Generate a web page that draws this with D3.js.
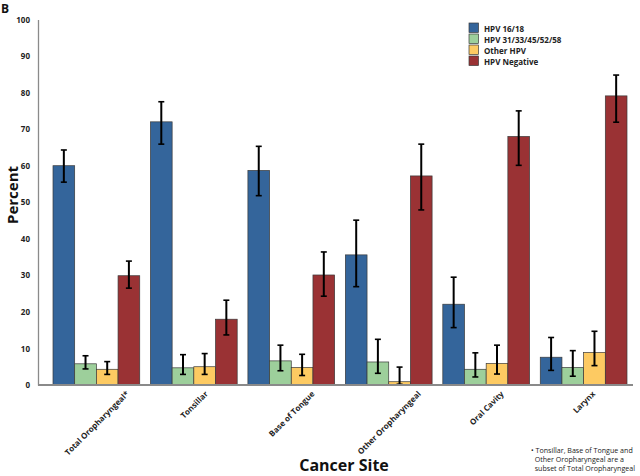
<!DOCTYPE html>
<html>
<head>
<meta charset="utf-8">
<script src="https://cdn.jsdelivr.net/npm/d3@7"></script>
<style>
  body { margin: 0; background: #fff; }
  svg { display: block; }
</style>
</head>
<body>
<svg id="chart" width="640" height="476"></svg>
<script>

var sites = ["Total Oropharyngeal*", "Tonsillar", "Base of Tongue", "Other Oropharyngeal", "Oral Cavity", "Larynx"];
var seriesNames = ["HPV 16/18", "HPV 31/33/45/52/58", "Other HPV", "HPV Negative"];
var seriesColors = ["#34659b", "#9dcf9b", "#fdca62", "#9a3234"];

// percent per site, one array per series
var hpv1618 = [60.0, 72.0, 58.7, 35.6, 22.1, 7.6];
var hpvOtherHR = [5.8, 4.7, 6.6, 6.3, 4.3, 4.8];
var otherHpv = [4.3, 5.0, 4.8, 0.9, 5.9, 8.9];
var hpvNeg = [29.9, 18.0, 30.1, 57.2, 68.0, 79.1];

// error bar limits
var hpv1618Lo = [55.5, 65.9, 51.8, 26.9, 15.7, 4.0];
var hpv1618Hi = [64.3, 77.5, 65.3, 45.1, 29.5, 13.0];
var hpvOtherHRLo = [4.4, 2.9, 3.9, 3.2, 2.2, 2.4];
var hpvOtherHRHi = [8.0, 8.3, 10.9, 12.5, 8.8, 9.4];
var otherHpvLo = [2.9, 2.9, 2.6, 0.2, 3.0, 5.3];
var otherHpvHi = [6.4, 8.6, 8.4, 4.9, 10.9, 14.7];
var hpvNegLo = [26.5, 13.7, 24.3, 47.9, 60.1, 71.9];
var hpvNegHi = [33.9, 23.2, 36.4, 65.9, 75.0, 84.8];

var yTicks = [0, 10, 20, 30, 40, 50, 60, 70, 80, 90, 100];
var footnote = ["\u2022 Tonsillar, Base of Tongue and", "  Other Oropharyngeal are a", "  subset of Total Oropharyngeal"];

var values = [hpv1618, hpvOtherHR, otherHpv, hpvNeg];
var lows = [hpv1618Lo, hpvOtherHRLo, otherHpvLo, hpvNegLo];
var highs = [hpv1618Hi, hpvOtherHRHi, otherHpvHi, hpvNegHi];

var svg = d3.select("#chart");
var font = "'Open Sans', Arial, sans-serif";

var y = d3.scaleLinear().domain([0, 100]).range([385, 19.5]);
var x0 = d3.scaleBand().domain(sites).range([53, 627]).paddingInner(0.11).paddingOuter(0);
var x1 = d3.scaleBand().domain(d3.range(seriesNames.length)).range([0, x0.bandwidth()]);

// y axis
var yAxis = svg.append("g")
  .attr("transform", "translate(38,0)")
  .call(d3.axisLeft(y).tickValues(yTicks).tickSize(0).tickPadding(8));
yAxis.select(".domain").attr("stroke", "#8a8a8a").attr("stroke-width", 1.3);
yAxis.selectAll("text")
  .style("font-family", font)
  .style("font-size", "8px")
  .style("font-weight", 700)
  .attr("fill", "#222");

// bars
var groups = svg.append("g").selectAll("g")
  .data(sites)
  .join("g")
  .attr("transform", d => `translate(${x0(d)},0)`);

groups.selectAll("rect")
  .data((d, i) => values.map((s, j) => ({ j: j, v: s[i] })))
  .join("rect")
  .attr("x", d => x1(d.j))
  .attr("y", d => y(d.v))
  .attr("width", x1.bandwidth())
  .attr("height", d => y(0) - y(d.v))
  .attr("fill", d => seriesColors[d.j])
  .attr("stroke", "#3a3a3a")
  .attr("stroke-width", 0.7);

// error bars
var errs = groups.selectAll("g.err")
  .data((d, i) => values.map((s, j) => ({ j: j, lo: lows[j][i], hi: highs[j][i] })))
  .join("g")
  .attr("class", "err")
  .attr("transform", d => `translate(${x1(d.j) + x1.bandwidth() / 2},0)`);

errs.append("line")
  .attr("y1", d => y(d.lo)).attr("y2", d => y(d.hi))
  .attr("stroke", "#000").attr("stroke-width", 2);
errs.selectAll("line.cap")
  .data(d => [d.lo, d.hi])
  .join("line")
  .attr("class", "cap")
  .attr("x1", -3).attr("x2", 3)
  .attr("y1", d => y(d)).attr("y2", d => y(d))
  .attr("stroke", "#000").attr("stroke-width", 1.6);

// baseline
svg.append("line")
  .attr("x1", 38).attr("x2", 633)
  .attr("y1", y(0)).attr("y2", y(0))
  .attr("stroke", "#8a8a8a").attr("stroke-width", 2);

// rotated category labels, centred under each group
svg.append("g").selectAll("text")
  .data(sites)
  .join("text")
  .text(d => d)
  .style("font-family", font)
  .style("font-size", "8px")
  .style("font-weight", 700)
  .attr("fill", "#222")
  .attr("text-anchor", "middle")
  .attr("dominant-baseline", "central")
  .each(function (d) {
    var len = this.getComputedTextLength();
    var cx = x0(d) + x0.bandwidth() / 2;
    var cy = 389 + len * 0.3536 + 3;
    d3.select(this).attr("transform", `translate(${cx},${cy}) rotate(-45)`);
  });

// axis titles
svg.append("text")
  .text("Percent")
  .attr("transform", "translate(18,195) rotate(-90)")
  .attr("text-anchor", "middle")
  .style("font-family", font)
  .style("font-size", "15px")
  .style("font-weight", 700)
  .attr("fill", "#111");

svg.append("text")
  .text("Cancer Site")
  .attr("x", 344).attr("y", 471)
  .attr("text-anchor", "middle")
  .style("font-family", font)
  .style("font-size", "16px")
  .style("font-weight", 700)
  .attr("fill", "#111");

svg.append("text")
  .text("B")
  .attr("x", 1).attr("y", 13)
  .style("font-family", font)
  .style("font-size", "12px")
  .style("font-weight", 700)
  .attr("fill", "#111");

// legend
var legend = svg.append("g").attr("transform", "translate(469,23)");
var rows = legend.selectAll("g")
  .data(seriesNames)
  .join("g")
  .attr("transform", (d, i) => `translate(0,${i * 11})`);
rows.append("rect")
  .attr("width", 9.5).attr("height", 9.5)
  .attr("fill", (d, i) => seriesColors[i])
  .attr("stroke", "#3a3a3a").attr("stroke-width", 0.7);
rows.append("text")
  .text(d => d)
  .attr("x", 15).attr("y", 5)
  .attr("dominant-baseline", "central")
  .style("font-family", font)
  .style("font-size", "8px")
  .style("font-weight", 700)
  .attr("fill", "#222");

// footnote
svg.append("g").selectAll("text")
  .data(footnote)
  .join("text")
  .text(d => d)
  .attr("x", 531)
  .attr("y", (d, i) => 453 + i * 9)
  .attr("xml:space", "preserve")
  .style("white-space", "pre")
  .style("font-family", font)
  .style("font-size", "7.1px")
  .attr("fill", "#222");

</script>
</body>
</html>
